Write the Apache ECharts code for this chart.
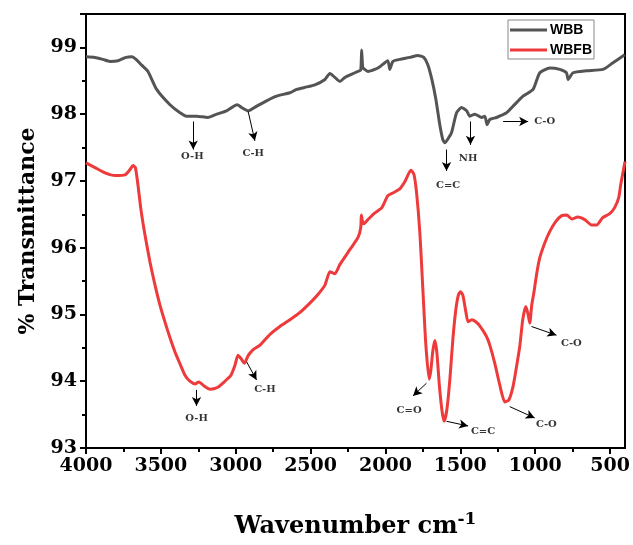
<!DOCTYPE html>
<html>
<head>
<meta charset="utf-8">
<script src="https://cdn.jsdelivr.net/npm/echarts@6/dist/echarts.min.js"></script>
<style>html,body{margin:0;padding:0;background:#fff}#c{width:633px;height:545px}</style>
</head>
<body>
<div id="c"></div>
<script>
// ---- data ----
const wnWBB = [4000,3940,3887,3840,3786,3733,3693,3666,3626,3586,3528,3439,3372,3328,3261,3186,3127,3061,2990,2961,2917,2860,2794,2727,2638,2593,2540,2471,2404,2371,2338,2304,2271,2224,2184,2165,2159,2152,2144,2117,2071,2037,1984,1971,1950,1904,1837,1784,1744,1717,1690,1663,1637,1617,1603,1585,1559,1525,1492,1458,1436,1403,1358,1336,1321,1303,1258,1191,1147,1081,1014,969,902,836,791,780,747,658,547,480,402];
const tWBB = [98.86,98.85,98.82,98.79,98.80,98.85,98.86,98.82,98.73,98.64,98.37,98.14,98.02,97.97,97.97,97.95,98.00,98.05,98.14,98.10,98.05,98.12,98.20,98.27,98.32,98.37,98.40,98.44,98.52,98.61,98.55,98.49,98.55,98.60,98.64,98.66,98.96,98.70,98.68,98.64,98.67,98.71,98.80,98.67,98.79,98.82,98.85,98.88,98.85,98.74,98.52,98.22,97.84,97.62,97.57,97.62,97.72,98.02,98.10,98.05,97.97,98.00,97.95,97.97,97.84,97.92,97.95,98.02,98.12,98.27,98.37,98.62,98.69,98.67,98.62,98.52,98.62,98.65,98.67,98.77,98.89];

const wnWBFB = [4000,3940,3873,3806,3740,3706,3686,3670,3653,3633,3606,3573,3539,3506,3473,3439,3406,3372,3339,3306,3272,3246,3212,3172,3119,3072,3032,3005,2985,2965,2942,2918,2885,2838,2772,2705,2638,2571,2505,2451,2404,2371,2338,2304,2238,2184,2165,2161,2152,2144,2117,2071,2024,1984,1950,1904,1870,1830,1810,1792,1770,1750,1730,1708,1697,1683,1670,1657,1640,1623,1608,1590,1570,1550,1530,1513,1499,1483,1463,1448,1423,1397,1370,1325,1303,1270,1236,1203,1176,1148,1123,1103,1083,1063,1049,1036,1023,1009,989,969,936,903,863,823,789,756,716,669,623,589,549,502,469,442,429,400];
const tWBFB = [97.27,97.20,97.12,97.08,97.09,97.17,97.23,97.20,96.94,96.57,96.19,95.79,95.44,95.14,94.89,94.65,94.44,94.26,94.09,94.00,93.96,93.99,93.93,93.88,93.91,94.00,94.09,94.24,94.39,94.34,94.27,94.38,94.47,94.54,94.70,94.82,94.92,95.03,95.17,95.30,95.44,95.64,95.61,95.75,95.97,96.15,96.30,96.49,96.38,96.36,96.42,96.52,96.60,96.78,96.82,96.88,96.99,97.16,97.10,96.82,96.22,95.37,94.54,94.03,94.16,94.46,94.61,94.44,93.94,93.57,93.40,93.57,94.02,94.62,95.07,95.29,95.34,95.29,95.04,94.89,94.92,94.89,94.83,94.67,94.54,94.27,93.94,93.69,93.72,93.92,94.24,94.52,94.92,95.12,95.02,94.87,95.14,95.32,95.62,95.85,96.07,96.24,96.39,96.48,96.49,96.43,96.46,96.42,96.34,96.34,96.45,96.51,96.60,96.75,96.94,97.29];

const seriesNames = ['WBB', 'WBFB'];
const xMajorTicks = [500,1000,1500,2000,2500,3000,3500,4000];
const xMinorTicks = [750,1250,1750,2250,2750,3250,3750];

// annotation labels (text, wavenumber, transmittance)
const annoText = ['O-H','C-H','C=C','NH','C-O','O-H','C-H','C=O','C=C','C-O','C-O'];
const annoWn   = [3290,2883,1581,1448,936,3262,2805,1842,1348,925,758];
const annoT    = [97.37,97.41,96.93,97.33,97.89,93.44,93.88,93.57,93.25,93.36,94.57];
// annotation arrows: start and end in data coordinates
const arrowFromWn = [3284,2917,1592,1432,1214,3262,2927,1726,1592,1170,1025];
const arrowFromT  = [97.89,98.04,97.47,97.89,97.89,93.87,94.29,93.97,93.40,93.62,94.82];
const arrowToWn   = [3284,2872,1592,1432,1047,3262,2861,1816,1448,1003,858];
const arrowToT    = [97.47,97.60,97.15,97.54,97.89,93.63,94.02,93.78,93.33,93.45,94.69];

// ---- chart ----
const FONT = 'DejaVu Serif';
const zip = (a, b) => a.map((v, i) => [v, b[i]]);

const chart = echarts.init(document.getElementById('c'), null, {renderer: 'canvas'});
chart.setOption({
  animation: false,
  backgroundColor: '#fff',
  grid: {left: 86, right: 8, top: 14, bottom: 97, show: true, borderColor: '#000', borderWidth: 2, backgroundColor: 'transparent'},
  legend: {
    data: seriesNames.map(n => ({name: n, icon: 'rect'})),
    orient: 'vertical', left: 508, top: 20,
    itemWidth: 37, itemHeight: 3, itemGap: 6,
    padding: [3, 2, 2, 2],
    borderColor: '#888', borderWidth: 1, borderRadius: 0,
    textStyle: {fontFamily: 'Liberation Sans', fontWeight: 'bold', fontSize: 14, color: '#000', padding: [0,0,0,-2]}
  },
  xAxis: [{
    type: 'value', min: 400, max: 4000, inverse: true,
    name: '{a|Wavenumber cm}{b|-1}', nameLocation: 'middle', nameGap: 63,
    nameTextStyle: {rich: {
      a: {fontFamily: FONT, fontWeight: 'bold', fontSize: 24, color: '#000'},
      b: {fontFamily: FONT, fontWeight: 'bold', fontSize: 17, color: '#000', padding: [0,0,14,0]}
    }},
    axisLine: {show: true, onZero: false, lineStyle: {color: '#000', width: 2}},
    axisTick: {show: true, inside: false, length: 6, lineStyle: {color: '#000', width: 2}, customValues: xMajorTicks},
    axisLabel: {show: true, margin: 9, fontFamily: FONT, fontWeight: 'bold', fontSize: 19, color: '#000',
      customValues: xMajorTicks, formatter: v => String(v)},
    splitLine: {show: false}
  }, {
    type: 'value', min: 400, max: 4000, inverse: true, position: 'bottom',
    axisLine: {show: false},
    axisTick: {show: true, inside: false, length: 4, lineStyle: {color: '#000', width: 2}, customValues: xMinorTicks},
    axisLabel: {show: false},
    splitLine: {show: false}
  }],
  yAxis: {
    type: 'value', min: 93, max: 99.5, interval: 1,
    name: '% Transmittance', nameLocation: 'middle', nameGap: 47,
    nameTextStyle: {fontFamily: FONT, fontWeight: 'bold', fontSize: 22, color: '#000'},
    axisLine: {show: true, lineStyle: {color: '#000', width: 2}},
    axisTick: {show: true, inside: false, length: 6, lineStyle: {color: '#000', width: 2}},
    minorTick: {show: true, splitNumber: 2, length: 4, lineStyle: {color: '#000', width: 2}},
    axisLabel: {margin: 9, fontFamily: FONT, fontWeight: 'bold', fontSize: 19, color: '#000', showMaxLabel: false},
    splitLine: {show: false}
  },
  series: [{
    name: 'WBB', type: 'line', data: zip(wnWBB, tWBB),
    showSymbol: false, smooth: 0.2, color: '#545454',
    lineStyle: {width: 3, color: '#545454'}
  }, {
    name: 'WBFB', type: 'line', data: zip(wnWBFB, tWBFB),
    showSymbol: false, smooth: 0.2, color: '#ee3a3a',
    lineStyle: {width: 3, color: '#ee3a3a'}
  }, {
    name: 'annotations', type: 'scatter', symbolSize: 0,
    data: annoText.map((t, i) => ({value: [annoWn[i], annoT[i]], name: t})),
    label: {show: true, position: 'inside', formatter: p => p.name,
      fontFamily: FONT, fontWeight: 'bold', fontSize: 10, color: '#000'},
    markLine: {
      silent: true, symbol: ['none', 'arrow'], symbolSize: [7, 9],
      lineStyle: {color: '#000', width: 1, type: 'solid'},
      label: {show: false},
      data: arrowFromWn.map((w, i) => [{coord: [w, arrowFromT[i]]}, {coord: [arrowToWn[i], arrowToT[i]]}])
    }
  }]
});
</script>
</body>
</html>
